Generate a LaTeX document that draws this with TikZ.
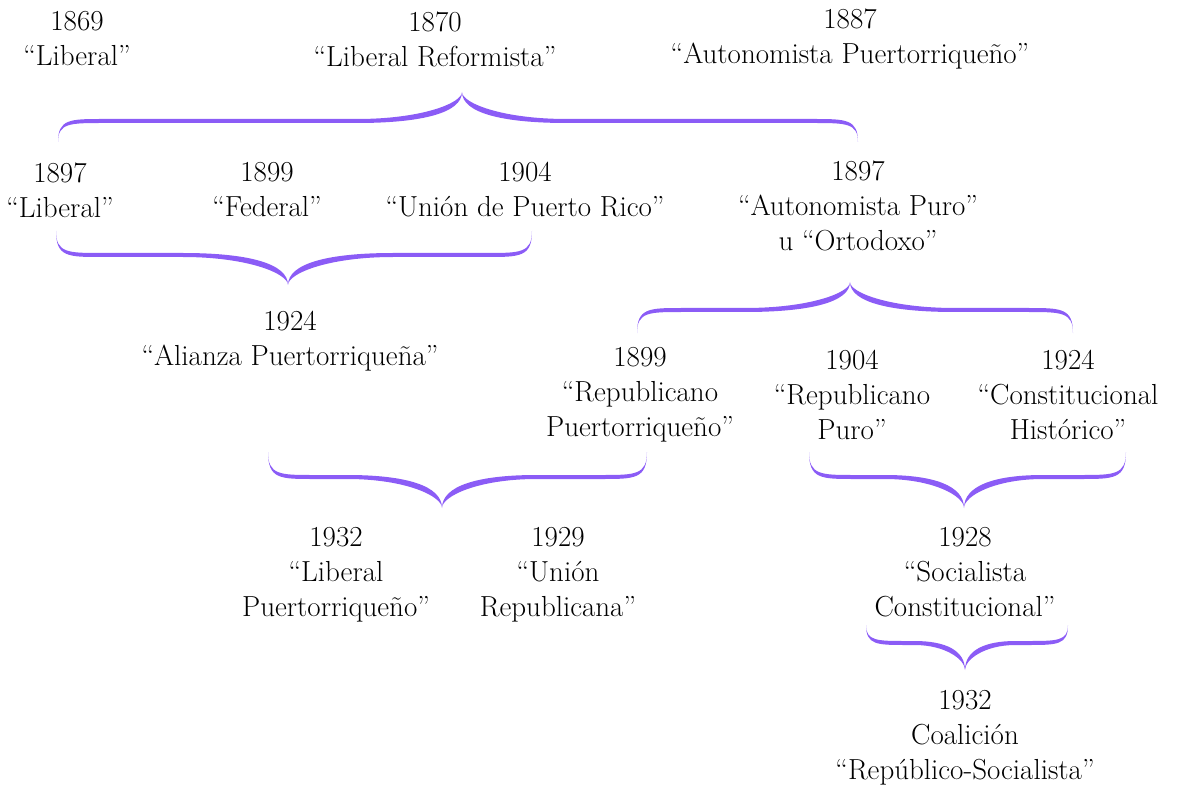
\documentclass[tikz,border=0pt]{standalone}
\usepackage{fontspec}
\usepackage{tikz}
\definecolor{violetish}{RGB}{139,92,246}

% tapered curly brace: left x, right x, tip x, end y, flat y, tip y
\newcommand\partybrace[6]{%
  \pgfmathsetmacro\tipw{min(105,0.25*(#2-#1))}%
  \pgfmathsetmacro\tipc{0.38*\tipw}%
  \pgfmathsetmacro\endw{min(45,0.2*(#2-#1))}%
  \pgfmathsetmacro\endc{0.27*\endw}%
  \fill[bracefill]
    (#1,#4) .. controls (#1,{#5-2}) and ({#1+\endc},{#5-2}) .. ({#1+\endw},{#5-2})
    -- ({#3-\tipw},{#5-2}) .. controls ({#3-\tipc},{#5-2}) and (#3,{#5+(0.45-0.17*sign(#6-#5))*(#6-#5)}) .. (#3,#6)
    .. controls (#3,{#5+(0.45-0.17*sign(#6-#5))*(#6-#5)}) and ({#3+\tipc},{#5-2}) .. ({#3+\tipw},{#5-2})
    -- ({#2-\endw},{#5-2}) .. controls ({#2-\endc},{#5-2}) and (#2,{#5-2}) .. (#2,#4)
    .. controls (#2,{#5+2}) and ({#2-\endc},{#5+2}) .. ({#2-\endw},{#5+2})
    -- ({#3+\tipw},{#5+2}) .. controls ({#3+\tipc},{#5+2}) and (#3,{#5+(0.45+0.17*sign(#6-#5))*(#6-#5)}) .. (#3,#6)
    .. controls (#3,{#5+(0.45+0.17*sign(#6-#5))*(#6-#5)}) and ({#3-\tipc},{#5+2}) .. ({#3-\tipw},{#5+2})
    -- ({#1+\endw},{#5+2}) .. controls ({#1+\endc},{#5+2}) and (#1,{#5+2}) .. (#1,#4)
    -- cycle;
}

\begin{document}
\begin{tikzpicture}[
  x=1pt,
  y=-1pt,
  party/.style={
    align=center,
    inner sep=0pt,
    font=\fontsize{29}{35}\selectfont
  },
  bracefill/.style={
    draw=none,
    fill=violetish
  }
]
\useasboundingbox (0,0) rectangle (1178,786);

% Founding row
\node[party] (lib69) at (77,39) {1869\\“Liberal”};
\node[party] (ref70) at (435,39) {1870\\“Liberal Reformista”};
\node[party] (aut87) at (850,39) {1887\\“Autonomista Puertorriqueño”};

% Split of 1897
\node[party] (lib97) at (60,190) {1897\\“Liberal”};
\node[party] (fed99) at (267,190) {1899\\“Federal”};
\node[party] (uni04) at (525,190) {1904\\“Unión de Puerto Rico”};
\node[party] (pur97) at (858,206) {1897\\“Autonomista Puro”\\u “Ortodoxo”};

\node[party] (ali24) at (290,341) {1924\\“Alianza Puertorriqueña”};

\node[party] (rep99) at (640,395) {1899\\“Republicano\\Puertorriqueño”};
\node[party] (rep04) at (852,395) {1904\\“Republicano\\Puro”};
\node[party] (con24) at (1068,395) {1924\\“Constitucional\\Histórico”};

% Thirties
\node[party] (lib32) at (336,575) {1932\\“Liberal\\Puertorriqueño”};
\node[party] (uni29) at (558,575) {1929\\“Unión\\Republicana”};
\node[party] (soc28) at (965,572) {1928\\“Socialista\\Constitucional”};
\node[party] (coa32) at (965,738) {1932\\Coalición\\“Repúblico-Socialista”};

% Braces
\partybrace{58}{858}{462}{142}{121}{92}
\partybrace{56}{532}{288}{231}{255}{285}
\partybrace{637}{1073}{850}{333}{310}{282}
\partybrace{268}{647}{442}{452}{477}{508}
\partybrace{809}{1126}{964}{452}{477}{508}
\partybrace{866}{1068}{965}{625}{643}{670}

\end{tikzpicture}
\end{document}
